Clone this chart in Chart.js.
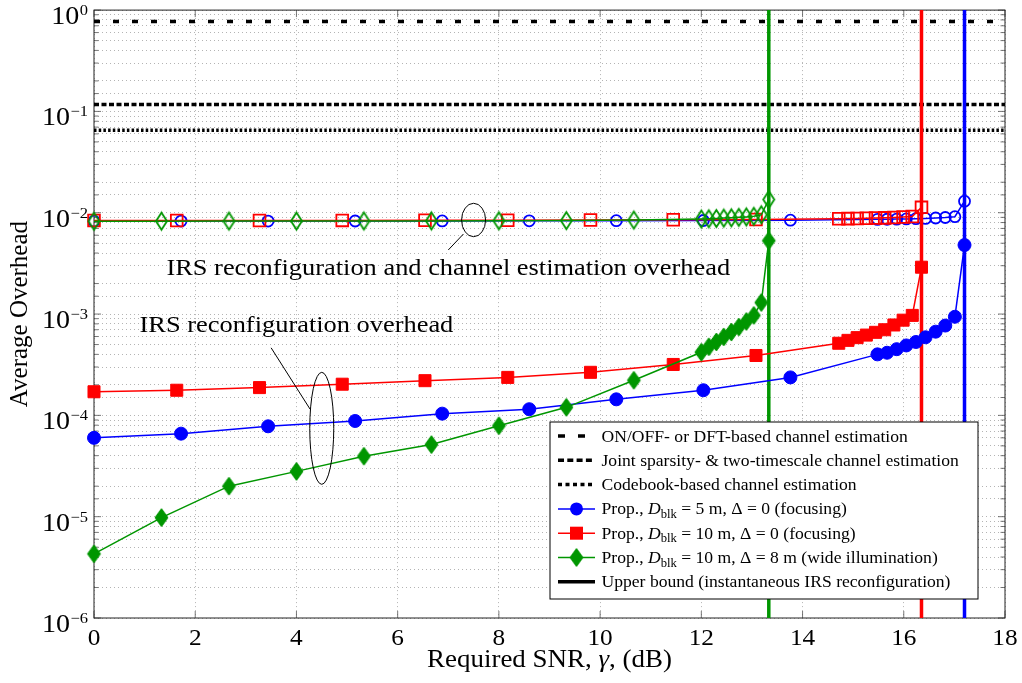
<!DOCTYPE html>
<html lang="en">
<head>
<meta charset="UTF-8">
<title>Average overhead vs. required SNR</title>
<script src="https://cdn.jsdelivr.net/npm/chart.js"></script>
<style>
  body { margin: 0; background: #fff; }
  #wrap { width: 1022px; height: 683px; }
</style>
</head>
<body>
<div id="wrap"><canvas id="overheadChart" width="1022" height="683"></canvas></div>
<script>
// --- values ---
// Prop., D_blk = 5 m, Delta = 0
const snrBlue    = [0, 1.72, 3.44, 5.16, 6.88, 8.6, 10.32, 12.04, 13.76, 15.48, 15.67, 15.86, 16.05, 16.24, 16.43, 16.63, 16.82, 17.01, 17.2];
const reconfBlue = [6.0e-5, 6.6e-5, 7.8e-5, 8.8e-5, 1.04e-4, 1.15e-4, 1.44e-4, 1.77e-4, 2.37e-4, 4.0e-4, 4.15e-4, 4.5e-4, 4.9e-4, 5.3e-4, 5.9e-4, 6.7e-4, 7.7e-4, 9.4e-4, 4.8e-3];
const totalBlue  = [8.26e-3, 8.27e-3, 8.28e-3, 8.29e-3, 8.3e-3, 8.32e-3, 8.34e-3, 8.38e-3, 8.44e-3, 8.6e-3, 8.62e-3, 8.65e-3, 8.69e-3, 8.73e-3, 8.79e-3, 8.87e-3, 8.97e-3, 9.14e-3, 1.3e-2];

// Prop., D_blk = 10 m, Delta = 0
const snrRed    = [0, 1.635, 3.27, 4.905, 6.54, 8.175, 9.81, 11.445, 13.08, 14.715, 14.897, 15.078, 15.26, 15.442, 15.623, 15.805, 15.987, 16.168, 16.35];
const reconfRed = [1.71e-4, 1.77e-4, 1.88e-4, 2.03e-4, 2.2e-4, 2.37e-4, 2.66e-4, 3.18e-4, 3.9e-4, 5.15e-4, 5.5e-4, 5.85e-4, 6.2e-4, 6.6e-4, 7.0e-4, 7.8e-4, 8.7e-4, 9.7e-4, 2.9e-3];
const totalRed  = [8.37e-3, 8.38e-3, 8.39e-3, 8.4e-3, 8.42e-3, 8.44e-3, 8.47e-3, 8.52e-3, 8.59e-3, 8.72e-3, 8.75e-3, 8.79e-3, 8.82e-3, 8.86e-3, 8.9e-3, 8.98e-3, 9.07e-3, 9.17e-3, 1.13e-2];

// Prop., D_blk = 10 m, Delta = 8 m
const snrGreen    = [0, 1.333, 2.667, 4, 5.333, 6.667, 8, 9.333, 10.667, 12, 12.148, 12.296, 12.444, 12.593, 12.741, 12.889, 13.037, 13.185, 13.333];
const reconfGreen = [4.3e-6, 9.8e-6, 2.0e-5, 2.8e-5, 3.95e-5, 5.15e-5, 7.9e-5, 1.2e-4, 2.22e-4, 4.2e-4, 4.75e-4, 5.3e-4, 5.95e-4, 6.65e-4, 7.45e-4, 8.45e-4, 9.7e-4, 1.3e-3, 5.3e-3];
const totalGreen  = [8.25e-3, 8.26e-3, 8.27e-3, 8.28e-3, 8.29e-3, 8.3e-3, 8.33e-3, 8.37e-3, 8.47e-3, 8.67e-3, 8.72e-3, 8.78e-3, 8.85e-3, 8.92e-3, 9.0e-3, 9.1e-3, 9.22e-3, 9.55e-3, 1.35e-2];

// upper bounds (instantaneous IRS reconfiguration): blue, red, green
const boundSnr = [17.2, 16.35, 13.333];
// baseline channel estimation overheads: ON/OFF or DFT, joint sparsity, codebook
const estLevels = [0.77, 0.117, 0.065];

const xTicks = [0, 2, 4, 6, 8, 10, 12, 14, 16, 18];
const yDecades = [0, -1, -2, -3, -4, -5, -6];

const legendLabels = [
    'ON/OFF- or DFT-based channel estimation',
    'Joint sparsity- & two-timescale channel estimation',
    'Codebook-based channel estimation',
    ' = 5 m, \u0394 = 0 (focusing)',
    ' = 10 m, \u0394 = 0 (focusing)',
    ' = 10 m, \u0394 = 8 m (wide illumination)',
    'Upper bound (instantaneous IRS reconfiguration)'
];

// --- styling ---
const BLUE = 'rgb(0,0,255)';
const RED = 'rgb(255,0,0)';
const GREEN = 'rgb(0,150,0)';
const SERIF = '"Liberation Serif", "Times New Roman", serif';
const SX = 1.1; // the original text is a little wider than Liberation Serif
const DASHES = [[6, 13], [5, 2.5], [2.5, 2.2]];

function pts(xs, ys) {
    return xs.map((x, i) => ({ x: x, y: ys[i] }));
}

function diamond(w, h, fill, stroke, lw) {
    const c = document.createElement('canvas');
    const pad = Math.ceil(lw) + 1;
    c.width = w + 2 * pad;
    c.height = h + 2 * pad;
    const g = c.getContext('2d');
    g.beginPath();
    g.moveTo(c.width / 2, pad);
    g.lineTo(c.width - pad, c.height / 2);
    g.lineTo(c.width / 2, c.height - pad);
    g.lineTo(pad, c.height / 2);
    g.closePath();
    if (fill) { g.fillStyle = fill; g.fill(); }
    g.lineWidth = lw;
    g.strokeStyle = stroke;
    g.stroke();
    return c;
}
const diamondSolid = diamond(13, 18, GREEN, GREEN, 1);
const diamondHollow = diamond(11, 17, null, GREEN, 1.8);

function solidSeries(xs, ys, color, style, radius) {
    return {
        data: pts(xs, ys), borderColor: color, backgroundColor: color, borderWidth: 1.5,
        pointStyle: style, pointRadius: radius, pointBorderWidth: 1,
        pointBackgroundColor: color, pointBorderColor: color, clip: false, order: 2
    };
}
function hollowSeries(xs, ys, color, style, radius) {
    return {
        data: pts(xs, ys), borderColor: color, backgroundColor: 'rgba(0,0,0,0)', borderWidth: 1.5,
        pointStyle: style, pointRadius: radius, pointBorderWidth: 1.8,
        pointBackgroundColor: 'rgba(0,0,0,0)', pointBorderColor: color, clip: false, order: 4
    };
}
function boundLine(x, color) {
    return {
        data: [{ x: x, y: 1e-6 }, { x: x, y: 1 }], borderColor: color, borderWidth: 3.5,
        pointRadius: 0, clip: false, order: 3
    };
}
function estLine(v, dash) {
    return {
        data: [{ x: 0, y: v }, { x: 18, y: v }], borderColor: '#000', borderWidth: 3.5,
        borderDash: dash, borderCapStyle: 'butt', pointRadius: 0, order: 5
    };
}

const datasets = [
    solidSeries(snrGreen, reconfGreen, GREEN, diamondSolid, 8),
    solidSeries(snrRed, reconfRed, RED, 'rect', 8.5),
    solidSeries(snrBlue, reconfBlue, BLUE, 'circle', 6.5),
    hollowSeries(snrGreen, totalGreen, GREEN, diamondHollow, 8),
    hollowSeries(snrRed, totalRed, RED, 'rect', 8.3),
    hollowSeries(snrBlue, totalBlue, BLUE, 'circle', 5.5),
    boundLine(boundSnr[0], BLUE),
    boundLine(boundSnr[1], RED),
    boundLine(boundSnr[2], GREEN),
    estLine(estLevels[0], DASHES[0]),
    estLine(estLevels[1], DASHES[1]),
    estLine(estLevels[2], DASHES[2])
];

// --- text helpers (slightly widened serif text) ---
function font(size, italic) {
    return (italic ? 'italic ' : '') + size + 'px ' + SERIF;
}
function partsWidth(ctx, parts) {
    let w = 0;
    parts.forEach(p => { ctx.font = font(p.size, p.italic); w += ctx.measureText(p.t).width * SX; });
    return w;
}
function drawParts(ctx, parts, x, y, align) {
    const w = partsWidth(ctx, parts);
    let cx = align === 'center' ? x - w / 2 : align === 'right' ? x - w : x;
    ctx.save();
    ctx.fillStyle = '#000';
    ctx.textBaseline = 'alphabetic';
    ctx.textAlign = 'left';
    parts.forEach(p => {
        ctx.font = font(p.size, p.italic);
        const pw = ctx.measureText(p.t).width * SX;
        ctx.save();
        ctx.translate(cx, y + (p.dy || 0));
        ctx.scale(SX, 1);
        ctx.fillText(p.t, 0, 0);
        ctx.restore();
        cx += pw;
    });
    ctx.restore();
    return w;
}

// --- frame, inward ticks ---
const framePlugin = {
    id: 'frame',
    beforeDatasetsDraw(chart) {
        const { ctx, chartArea: a, scales: { x, y } } = chart;
        ctx.save();
        ctx.strokeStyle = '#555';
        ctx.lineWidth = 0.8;
        ctx.beginPath();
        y.ticks.forEach(t => {
            const py = y.getPixelForValue(t.value);
            const sig = t.value / Math.pow(10, Math.floor(Math.log10(t.value) + 1e-9));
            const len = Math.abs(sig - 1) < 1e-6 ? 7 : 4.5;
            ctx.moveTo(a.left, py); ctx.lineTo(a.left + len, py);
            ctx.moveTo(a.right, py); ctx.lineTo(a.right - len, py);
        });
        xTicks.forEach(v => {
            const px = x.getPixelForValue(v);
            ctx.moveTo(px, a.bottom); ctx.lineTo(px, a.bottom - 7);
            ctx.moveTo(px, a.top); ctx.lineTo(px, a.top + 7);
        });
        ctx.stroke();
        ctx.strokeStyle = '#222';
        ctx.lineWidth = 1;
        ctx.strokeRect(a.left, a.top, a.right - a.left, a.bottom - a.top);
        ctx.restore();
    }
};

// --- annotations, legend, tick labels and titles ---
const textPlugin = {
    id: 'texts',
    afterDatasetsDraw(chart) {
        const { ctx, chartArea: a, scales: { x, y } } = chart;

        // annotations
        drawParts(ctx, [{ t: 'IRS reconfiguration and channel estimation overhead', size: 24 }],
            x.getPixelForValue(7.0), y.getPixelForValue(2.45e-3), 'center');
        drawParts(ctx, [{ t: 'IRS reconfiguration overhead', size: 24 }],
            x.getPixelForValue(4.0), y.getPixelForValue(6.6e-4), 'center');
        ctx.save();
        ctx.strokeStyle = '#000';
        ctx.lineWidth = 1;
        ctx.beginPath();
        ctx.ellipse(x.getPixelForValue(7.5), y.getPixelForValue(8.48e-3), 12, 16.7, 0, 0, 2 * Math.PI);
        ctx.moveTo(x.getPixelForValue(7.3), y.getPixelForValue(6.17e-3));
        ctx.lineTo(x.getPixelForValue(7.0), y.getPixelForValue(4.29e-3));
        ctx.stroke();
        ctx.beginPath();
        ctx.ellipse(x.getPixelForValue(4.5), y.getPixelForValue(7.45e-5), 12, 56, 0, 0, 2 * Math.PI);
        ctx.moveTo(x.getPixelForValue(3.5), y.getPixelForValue(4.64e-4));
        ctx.lineTo(x.getPixelForValue(4.27), y.getPixelForValue(1.15e-4));
        ctx.stroke();
        ctx.restore();

        // legend
        const lx = 550, ly = 422, lw = 428, lh = 177;
        ctx.save();
        ctx.fillStyle = '#fff';
        ctx.fillRect(lx, ly, lw, lh);
        ctx.strokeStyle = '#000';
        ctx.lineWidth = 1;
        ctx.strokeRect(lx, ly, lw, lh);
        const s0 = 558, s1 = 595, sm = 576.5;
        const markers = [
            { color: BLUE, draw: (cy) => { ctx.beginPath(); ctx.arc(sm, cy, 6.5, 0, 2 * Math.PI); ctx.fill(); } },
            { color: RED, draw: (cy) => { ctx.fillRect(sm - 6.5, cy - 6.5, 13, 13); } },
            { color: GREEN, draw: (cy) => { ctx.drawImage(diamondSolid, sm - diamondSolid.width / 2, cy - diamondSolid.height / 2); } }
        ];
        legendLabels.forEach((label, i) => {
            const cy = 436 + i * 24.3;
            ctx.save();
            if (i < 3) {
                ctx.strokeStyle = '#000';
                ctx.lineWidth = 3.5;
                ctx.setLineDash(i === 0 ? [7, 13] : i === 1 ? [6, 3.3] : [4, 3.5]);
                ctx.beginPath(); ctx.moveTo(s0, cy); ctx.lineTo(s1, cy); ctx.stroke();
            } else if (i < 6) {
                const m = markers[i - 3];
                ctx.strokeStyle = m.color;
                ctx.fillStyle = m.color;
                ctx.lineWidth = 1.5;
                ctx.beginPath(); ctx.moveTo(s0, cy); ctx.lineTo(s1, cy); ctx.stroke();
                m.draw(cy);
            } else {
                ctx.strokeStyle = '#000';
                ctx.lineWidth = 3.5;
                ctx.beginPath(); ctx.moveTo(s0, cy); ctx.lineTo(s1, cy); ctx.stroke();
            }
            ctx.restore();
            const parts = (i >= 3 && i < 6)
                ? [{ t: 'Prop., ', size: 16 }, { t: 'D', size: 16, italic: true }, { t: 'blk', size: 11.5, dy: 3.5 }, { t: label, size: 16 }]
                : [{ t: label, size: 16 }];
            drawParts(ctx, parts, 601.5, cy + 5.5, 'left');
        });
        ctx.restore();
    },
    afterDraw(chart) {
        const { ctx, chartArea: a, scales: { x, y } } = chart;
        // x tick labels
        xTicks.forEach(v => {
            drawParts(ctx, [{ t: String(v), size: 23 }], x.getPixelForValue(v), 645, 'center');
        });
        // y tick labels 10^k
        yDecades.forEach(k => {
            const py = y.getPixelForValue(Math.pow(10, k));
            const expStr = k === 0 ? '0' : '\u2212' + (-k);
            ctx.font = font(15, false);
            const ew = ctx.measureText(expStr).width * SX;
            drawParts(ctx, [{ t: '10', size: 25.5 }], 88 - ew - 0.5, py + 14, 'right');
            drawParts(ctx, [{ t: expStr, size: 15 }], 88, py + 5, 'right');
        });
        // axis titles
        drawParts(ctx, [{ t: 'Required SNR, ', size: 24.5 }, { t: '\u03b3', size: 24.5, italic: true }, { t: ', (dB)', size: 24.5 }],
            (a.left + a.right) / 2, 667, 'center');
        ctx.save();
        ctx.translate(27, (a.top + a.bottom) / 2);
        ctx.rotate(-Math.PI / 2);
        ctx.font = font(25, false);
        ctx.fillStyle = '#000';
        ctx.textAlign = 'center';
        ctx.textBaseline = 'alphabetic';
        ctx.fillText('Average Overhead', 0, 0);
        ctx.restore();
    }
};

const gridOpts = { color: '#b4b4b4', lineWidth: 1, drawTicks: false };
const borderOpts = { display: false, dash: [1, 3] };

new Chart(document.getElementById('overheadChart'), {
    type: 'line',
    data: { datasets: datasets },
    options: {
        responsive: false,
        animation: false,
        events: [],
        layout: { padding: { top: 9, right: 17, left: 0, bottom: 0 } },
        plugins: { legend: { display: false }, tooltip: { enabled: false } },
        scales: {
            x: {
                type: 'linear', min: 0, max: 18,
                ticks: { display: false, stepSize: 2 },
                grid: gridOpts, border: borderOpts,
                afterFit: s => { s.height = 65; }
            },
            y: {
                type: 'logarithmic', min: 1e-6, max: 1,
                ticks: { display: false },
                grid: gridOpts, border: borderOpts,
                afterFit: s => { s.width = 94; }
            }
        }
    },
    plugins: [framePlugin, textPlugin]
});
</script>
</body>
</html>
